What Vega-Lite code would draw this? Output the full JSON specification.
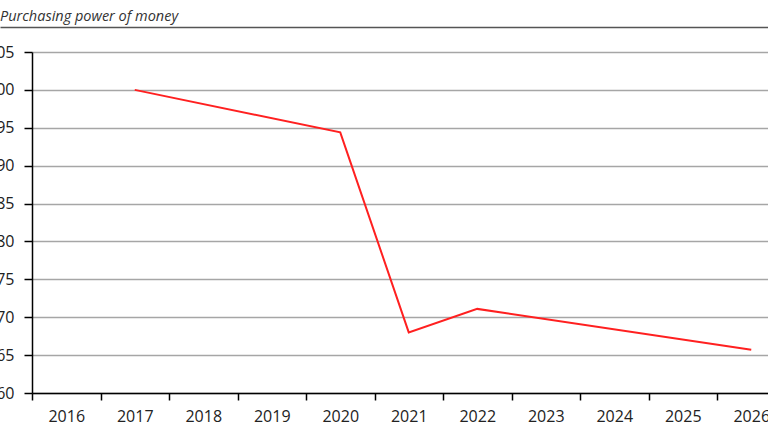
{
  "$schema": "https://vega.github.io/schema/vega-lite/v6.json",
  "width": 736,
  "height": 341,
  "autosize": {"type": "none"},
  "padding": {"left": 32, "top": 52, "right": 0, "bottom": 39},
  "background": "white",
  "config": {"view": {"stroke": null}, "font": "Open Sans"},
  "title": {
    "text": "Purchasing power of money",
    "anchor": "start",
    "frame": "group",
    "dx": -32,
    "dy": 14,
    "offset": 6,
    "baseline": "alphabetic",
    "fontSize": 14.5,
    "fontStyle": "italic",
    "fontWeight": "normal",
    "font": "Open Sans",
    "color": "#333333"
  },
  "data": {
    "values": [
      {"year": "2017", "value": 100},
      {"year": "2020", "value": 94.4},
      {"year": "2021", "value": 68.0},
      {"year": "2022", "value": 71.1},
      {"year": "2026", "value": 65.7}
    ]
  },
  "layer": [
    {
      "mark": {"type": "line", "color": "#ff2020", "strokeWidth": 2},
      "encoding": {
        "x": {
          "field": "year",
          "type": "ordinal",
          "bandPosition": 0.5,
          "scale": {
            "type": "band",
            "domain": ["2016", "2017", "2018", "2019", "2020", "2021", "2022", "2023", "2024", "2025", "2026"],
            "range": [0, 753.5],
            "paddingInner": 0,
            "paddingOuter": 0
          },
          "axis": {
            "title": null,
            "tickBand": "extent",
            "grid": false,
            "domainColor": "#000000",
            "domainWidth": 1.5,
            "tickColor": "#000000",
            "tickWidth": 1.5,
            "tickSize": 7,
            "labelAngle": 0,
            "labelFontSize": 16,
            "labelColor": "#222222",
            "labelPadding": 8
          }
        },
        "y": {
          "field": "value",
          "type": "quantitative",
          "scale": {"domain": [60, 105], "nice": false, "zero": false},
          "axis": {
            "title": null,
            "values": [60, 65, 70, 75, 80, 85, 90, 95, 100, 105],
            "grid": true,
            "gridColor": "#a6a6a6",
            "gridWidth": 1.5,
            "domainColor": "#000000",
            "domainWidth": 1.5,
            "tickColor": "#000000",
            "tickWidth": 1.5,
            "tickSize": 8,
            "labelFontSize": 16,
            "labelColor": "#222222",
            "labelPadding": 10
          }
        }
      }
    },
    {
      "mark": {"type": "point", "opacity": 0},
      "encoding": {
        "x": {
          "field": "year",
          "type": "ordinal",
          "scale": {
            "type": "band",
            "domain": ["2016", "2017", "2018", "2019", "2020", "2021", "2022", "2023", "2024", "2025", "2026"],
            "range": [-32, 736]
          },
          "axis": {
            "orient": "top",
            "offset": 25,
            "labels": false,
            "ticks": false,
            "grid": false,
            "title": null,
            "domainColor": "#555555",
            "domainWidth": 1.5
          }
        }
      }
    }
  ],
  "resolve": {"scale": {"x": "independent"}, "axis": {"x": "independent"}}
}
